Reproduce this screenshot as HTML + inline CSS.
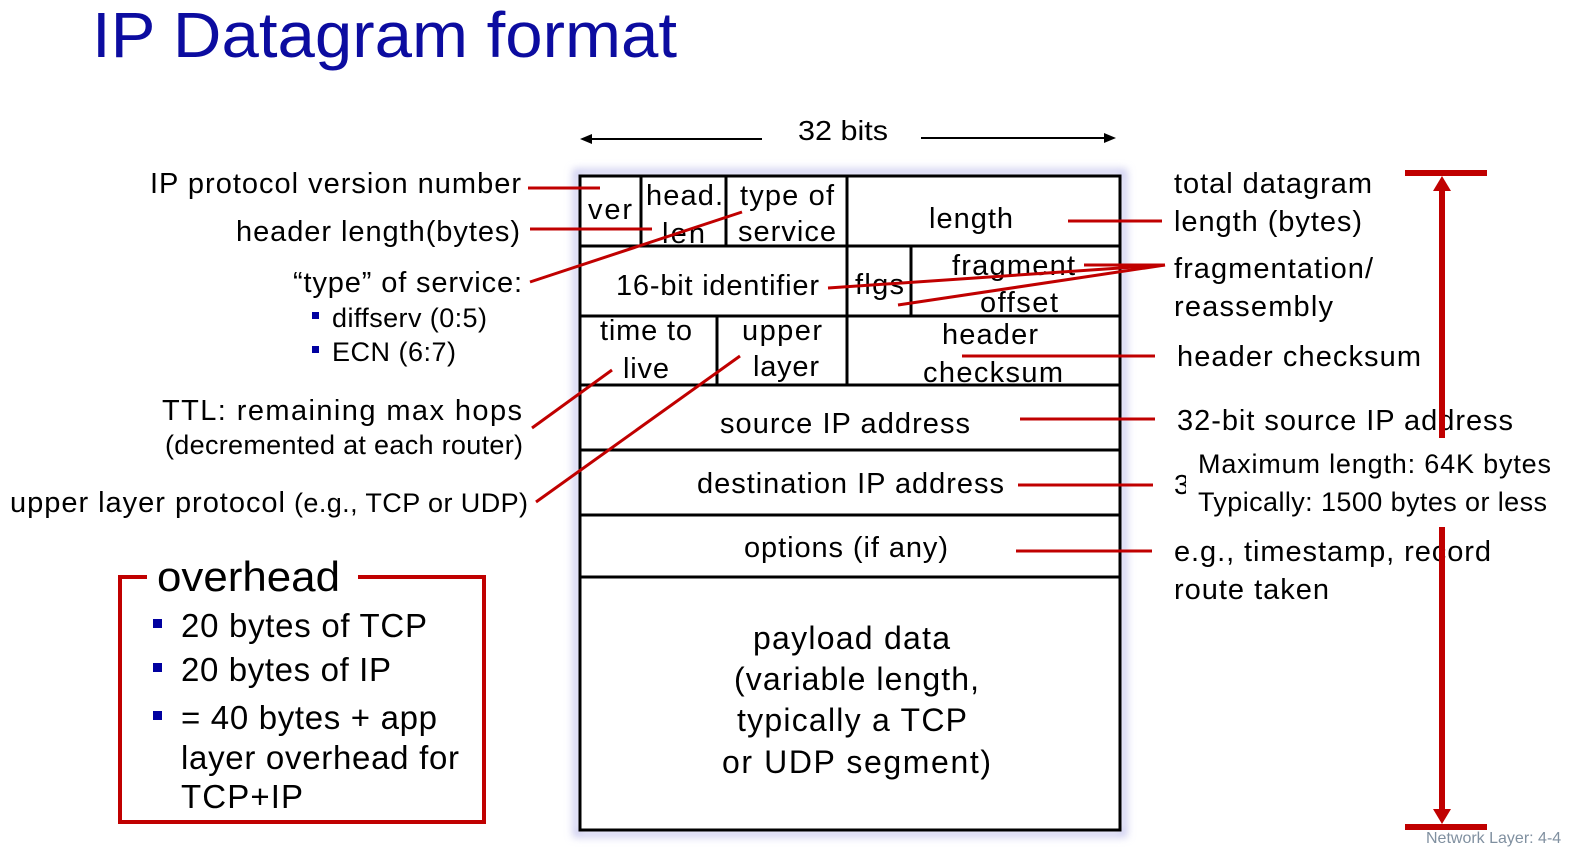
<!DOCTYPE html>
<html><head><meta charset="utf-8"><style>
html,body{margin:0;padding:0;background:#fff;}
svg{display:block;}
text{font-family:"Liberation Sans",Arial,sans-serif;fill:#000;}
</style></head><body>
<svg width="1569" height="852" viewBox="0 0 1569 852" xmlns="http://www.w3.org/2000/svg">
<defs>
<filter id="sh" x="-5%" y="-5%" width="110%" height="110%"><feGaussianBlur stdDeviation="4"/></filter>
</defs>
<text x="92" y="57" font-size="64" style="fill:#0c0ca0" textLength="585" lengthAdjust="spacingAndGlyphs">IP Datagram format</text>

<line x1="590" y1="139" x2="762" y2="139" stroke="#000" stroke-width="2"/>
<polygon points="580,139 592,134 592,144" fill="#000"/>
<line x1="921" y1="138" x2="1105" y2="138" stroke="#000" stroke-width="2"/>
<polygon points="1116,138 1104,133 1104,143" fill="#000"/>
<text x="798" y="140" font-size="28" textLength="90" lengthAdjust="spacingAndGlyphs">32 bits</text>

<rect x="576" y="172" width="548" height="662" fill="none" stroke="#c8c8ee" stroke-width="6" filter="url(#sh)"/>
<rect x="580" y="176" width="540" height="654" fill="#fff" stroke="#000" stroke-width="3"/>
<g stroke="#000" stroke-width="3">
<line x1="580" y1="246" x2="1120" y2="246"/>
<line x1="580" y1="316" x2="1120" y2="316"/>
<line x1="580" y1="385" x2="1120" y2="385"/>
<line x1="580" y1="450" x2="1120" y2="450"/>
<line x1="580" y1="515" x2="1120" y2="515"/>
<line x1="580" y1="577" x2="1120" y2="577"/>
<line x1="641" y1="176" x2="641" y2="246"/>
<line x1="726" y1="176" x2="726" y2="246"/>
<line x1="847" y1="176" x2="847" y2="246"/>
<line x1="847" y1="246" x2="847" y2="316"/>
<line x1="911" y1="246" x2="911" y2="316"/>
<line x1="717" y1="316" x2="717" y2="385"/>
<line x1="847" y1="316" x2="847" y2="385"/>
</g>
<g font-size="29" lengthAdjust="spacingAndGlyphs">
<text x="588" y="219" textLength="44">ver</text>
<text x="646" y="205" textLength="77">head.</text>
<text x="662" y="243" textLength="43">len</text>
<text x="740" y="205" textLength="94">type of</text>
<text x="738" y="241" textLength="98">service</text>
<text x="929" y="228" textLength="84">length</text>
<text x="616" y="295" textLength="203">16-bit identifier</text>
<text x="855" y="294" textLength="49">flgs</text>
<text x="952" y="275" textLength="123">fragment</text>
<text x="980" y="312" textLength="78">offset</text>
<text x="600" y="340" textLength="92">time to</text>
<text x="623" y="378" textLength="46">live</text>
<text x="742" y="340" textLength="80">upper</text>
<text x="753" y="376" textLength="66">layer</text>
<text x="942" y="344" textLength="96">header</text>
<text x="923" y="382" textLength="140">checksum</text>
<text x="720" y="433" textLength="250">source IP address</text>
<text x="697" y="493" textLength="307">destination IP address</text>
<text x="744" y="557" textLength="204">options (if any)</text>
<text x="753" y="649" font-size="32" textLength="197">payload data</text>
<text x="734" y="690" font-size="32" textLength="245">(variable length,</text>
<text x="737" y="731" font-size="32" textLength="230">typically a TCP</text>
<text x="722" y="773" font-size="32" textLength="269">or UDP segment)</text>
</g>

<g font-size="29" lengthAdjust="spacingAndGlyphs">
<text x="150" y="193" textLength="371">IP protocol version number</text>
<text x="236" y="241" textLength="284">header length(bytes)</text>
<text x="293" y="292" textLength="229">“type” of service:</text>
<text x="162" y="420" textLength="360">TTL: remaining  max hops</text>
<text x="165" y="454" font-size="27" textLength="358">(decremented at each router)</text>
<text x="332" y="327" font-size="27" textLength="155">diffserv (0:5)</text>
<text x="332" y="361" font-size="27" textLength="124">ECN (6:7)</text>
<text x="10" y="512" textLength="275">upper layer protocol</text>
<text x="294" y="512" font-size="27" textLength="234">(e.g., TCP or UDP)</text>
</g>
<rect x="312" y="312" width="7" height="7" fill="#0000a0"/>
<rect x="312" y="346" width="7" height="7" fill="#0000a0"/>

<g font-size="29" lengthAdjust="spacingAndGlyphs">
<text x="1174" y="193" textLength="198">total datagram</text>
<text x="1174" y="231" textLength="188">length (bytes)</text>
<text x="1174" y="278" textLength="199">fragmentation/</text>
<text x="1174" y="316" textLength="159">reassembly</text>
<text x="1177" y="366" textLength="244">header checksum</text>
<text x="1177" y="430" textLength="336">32-bit source IP address</text>
<text x="1174" y="561" textLength="317">e.g., timestamp, record</text>
<text x="1174" y="599" textLength="155">route taken</text>
</g>

<g fill="#c00000" stroke="none">
<rect x="1405" y="170" width="82" height="6"/>
<rect x="1439" y="188" width="6" height="250"/>
<polygon points="1442,176 1433,191 1451,191"/>
<rect x="1405" y="824" width="82" height="6"/>
<rect x="1439" y="527" width="6" height="284"/>
<polygon points="1442,824 1433,809 1451,809"/>
</g>
<rect x="1194" y="442" width="372" height="84" fill="#fff"/>
<text x="1174" y="494" font-size="28">3</text>
<rect x="1186" y="470" width="10" height="30" fill="#fff"/>
<g font-size="27" lengthAdjust="spacingAndGlyphs">
<text x="1198" y="473" textLength="353">Maximum length: 64K bytes</text>
<text x="1198" y="511" textLength="349">Typically: 1500 bytes or less</text>
</g>

<g stroke="#c00000" stroke-width="3" fill="none">
<line x1="528" y1="188" x2="600" y2="188"/>
<line x1="530" y1="229" x2="652" y2="229"/>
<line x1="530" y1="282" x2="742" y2="212"/>
<line x1="532" y1="428" x2="612" y2="370"/>
<line x1="536" y1="502" x2="740" y2="356"/>
<line x1="1068" y1="221" x2="1162" y2="221"/>
<line x1="828" y1="288" x2="1165" y2="265"/>
<line x1="898" y1="305" x2="1165" y2="265"/>
<line x1="1084" y1="265" x2="1165" y2="265"/>
<line x1="962" y1="356" x2="1155" y2="356"/>
<line x1="1020" y1="419" x2="1155" y2="419"/>
<line x1="1018" y1="485" x2="1153" y2="485"/>
<line x1="1016" y1="551" x2="1152" y2="551"/>
</g>

<path d="M147,577 H120 V822 H484 V577 H358" fill="none" stroke="#c00000" stroke-width="4"/>
<text x="157" y="591" font-size="42" textLength="183" lengthAdjust="spacingAndGlyphs">overhead</text>
<g font-size="33" lengthAdjust="spacingAndGlyphs">
<text x="181" y="637" textLength="246">20 bytes of TCP</text>
<text x="181" y="681" textLength="210">20 bytes of IP</text>
<text x="181" y="729" textLength="256">= 40 bytes + app</text>
<text x="181" y="769" textLength="278">layer overhead for</text>
<text x="181" y="808" textLength="122">TCP+IP</text>
</g>
<rect x="153" y="619" width="9" height="9" fill="#0000a0"/>
<rect x="153" y="663" width="9" height="9" fill="#0000a0"/>
<rect x="153" y="711" width="9" height="9" fill="#0000a0"/>

<text x="1426" y="843" font-size="16" style="fill:#8090a0">Network Layer: 4-4</text>
</svg>
</body></html>
